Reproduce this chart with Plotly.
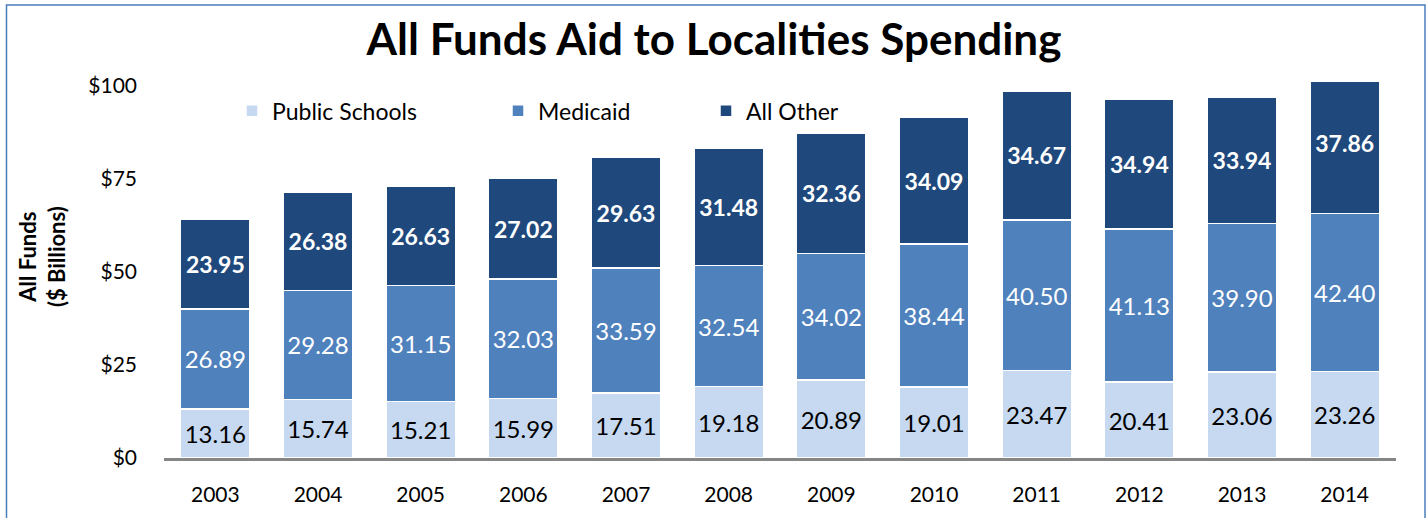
import plotly.graph_objects as go

years = ["2003", "2004", "2005", "2006", "2007", "2008", "2009", "2010", "2011", "2012", "2013", "2014"]
public_schools = [13.16, 15.74, 15.21, 15.99, 17.51, 19.18, 20.89, 19.01, 23.47, 20.41, 23.06, 23.26]
medicaid = [26.89, 29.28, 31.15, 32.03, 33.59, 32.54, 34.02, 38.44, 40.50, 41.13, 39.90, 42.40]
all_other = [23.95, 26.38, 26.63, 27.02, 29.63, 31.48, 32.36, 34.09, 34.67, 34.94, 33.94, 37.86]

y_ticks = [0, 25, 50, 75, 100]
y_tick_labels = ["$0", "$25", "$50", "$75", "$100"]

FONT = "Lato"
W, H = 1428, 518
ML, MR, MT, MB = 164, 32, 82, 58
PW, PH = W - ML - MR, H - MT - MB

series = [
    ("Public Schools", public_schools, "#C6D9F1", "#000000", "normal", 24, "legend", 232),
    ("Medicaid", medicaid, "#4F81BD", "#FFFFFF", "normal", 24, "legend2", 498),
    ("All Other", all_other, "#1F497D", "#FFFFFF", "bold", 23, "legend3", 706),
]

fig = go.Figure()
for name, vals, color, tcolor, weight, tsize, leg, _ in series:
    fig.add_trace(go.Bar(
        x=years, y=vals, name=name, legend=leg,
        marker=dict(color=color, line=dict(color="#FFFFFF", width=1.5)),
        texttemplate="%{y:.2f}", textposition="inside", insidetextanchor="middle",
        textangle=0, constraintext="none",
        textfont=dict(family=FONT, size=tsize, color=tcolor, weight=weight),
    ))

def px_x(px):
    return (px - ML) / PW

def px_y(py):
    return (H - MB - py) / PH

legend_common = dict(orientation="h", yanchor="middle", y=px_y(111), xanchor="left",
                     font=dict(family=FONT, size=23, color="#000000"),
                     bgcolor="rgba(0,0,0,0)", borderwidth=0, traceorder="normal")
layout_legends = {}
for name, _, _, _, _, _, leg, lx in series:
    layout_legends[leg] = dict(legend_common, x=px_x(lx))

fig.update_layout(
    barmode="stack",
    bargap=0.32,
    width=W, height=H,
    margin=dict(l=ML, r=MR, t=MT, b=MB, pad=0),
    paper_bgcolor="#FFFFFF", plot_bgcolor="#FFFFFF",
    showlegend=True,
    title=dict(text="<b>All Funds Aid to Localities Spending</b>", x=0.5, xanchor="center",
               xref="container", yref="container", y=1 - 40 / H, yanchor="middle",
               font=dict(family=FONT, size=44, color="#000000")),
    xaxis=dict(showline=True, linecolor="#868686", linewidth=3, ticks="",
               tickfont=dict(family=FONT, size=21, color="#000000"),
               ticklabelstandoff=16, showgrid=False, zeroline=False, fixedrange=True),
    yaxis=dict(range=[0, 101], tickvals=y_ticks, ticktext=y_tick_labels, showgrid=False,
               zeroline=False, showline=False, ticks="",
               tickfont=dict(family=FONT, size=21, color="#000000"),
               ticklabelstandoff=26),
    annotations=[dict(text="<b>All Funds<br>($ Billions)</b>", textangle=-90,
                      xref="paper", yref="paper", x=px_x(42), y=px_y(258),
                      xanchor="center", yanchor="middle", showarrow=False,
                      font=dict(family=FONT, size=22, color="#000000"))],
    shapes=[dict(type="rect", xref="paper", yref="paper",
                 x0=px_x(6.5), x1=px_x(1425), y0=px_y(530), y1=px_y(4.5),
                 line=dict(color="#4A7EBB", width=1.5), layer="below")],
    **layout_legends,
)

fig.write_html("out.html")
